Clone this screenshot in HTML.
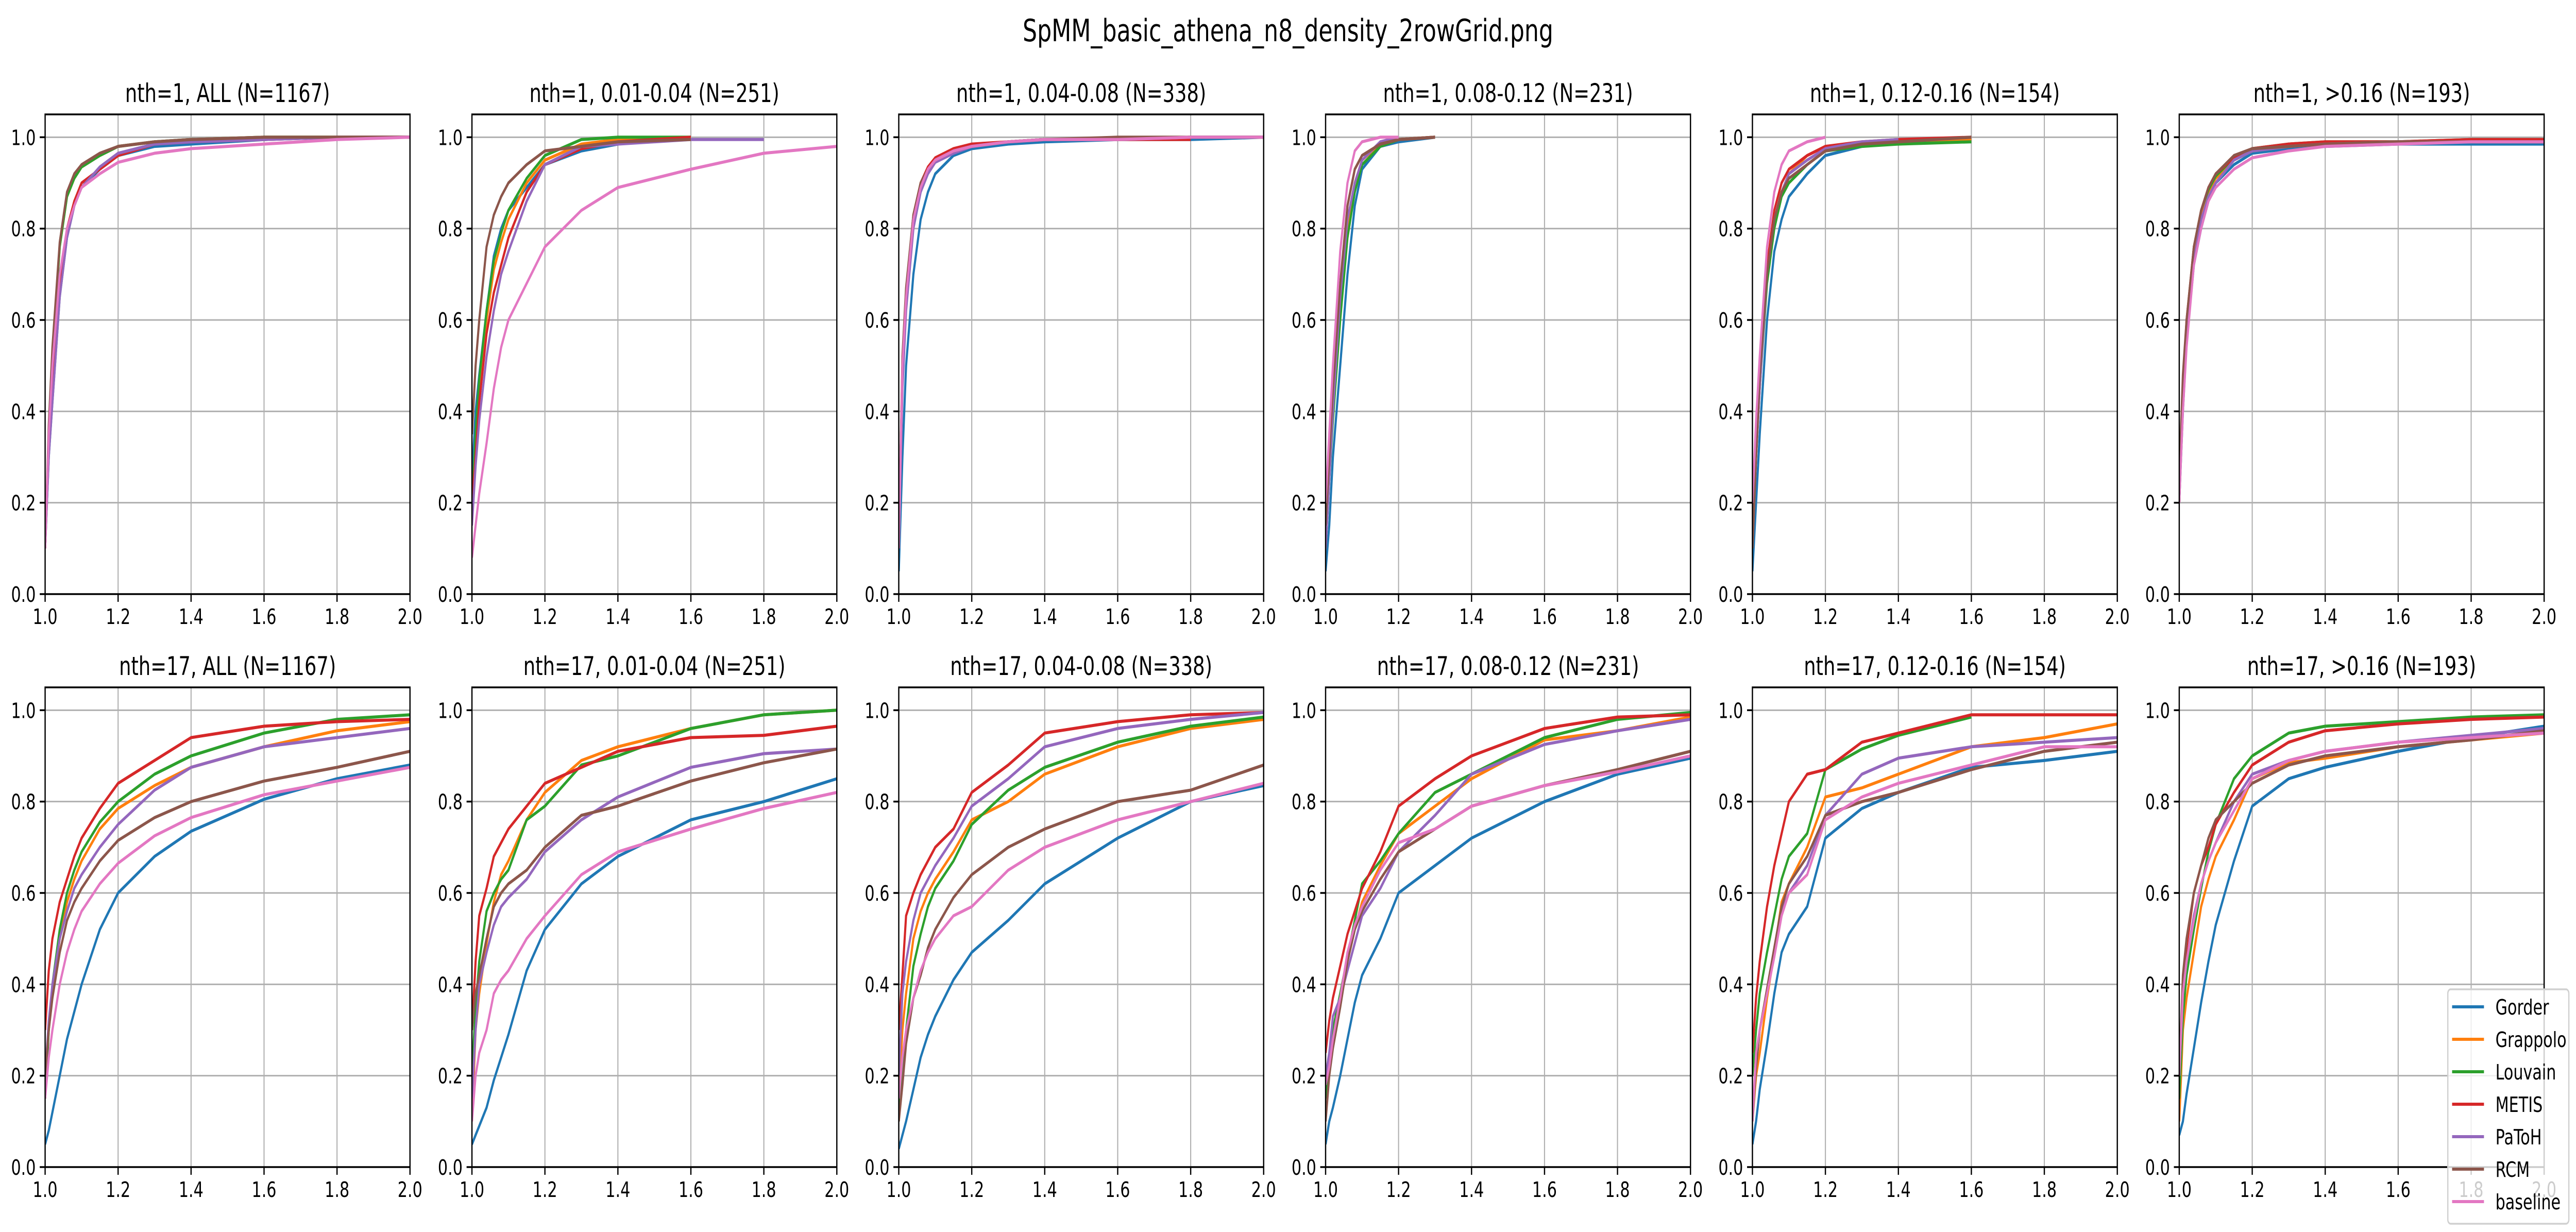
<!DOCTYPE html>
<html><head><meta charset="utf-8">
<style>
html,body{margin:0;padding:0;background:#fff;width:100%;height:100%;overflow:hidden;}
svg{display:block;width:100vw;height:100vh;font-family:"DejaVu Sans","Liberation Sans",sans-serif;}
</style></head>
<body>
<svg id="chart" xmlns="http://www.w3.org/2000/svg" viewBox="0 0 7194 2391" preserveAspectRatio="none">
<rect width="7194" height="2391" fill="#fff"/>
<text x="3597" y="80" font-size="60" text-anchor="middle" fill="#000">SpMM_basic_athena_n8_density_2rowGrid.png</text>
</svg>
<script>
const xGrid = [1.0,1.01,1.02,1.04,1.06,1.08,1.1,1.15,1.2,1.3,1.4,1.6,1.8,2.0];
const seriesNames = ["Gorder","Grappolo","Louvain","METIS","PaToH","RCM","baseline"];
const seriesColors = ["#1f77b4","#ff7f0e","#2ca02c","#d62728","#9467bd","#8c564b","#e377c2"];
const panelTitles = ["nth=1, ALL (N=1167)","nth=1, 0.01-0.04 (N=251)","nth=1, 0.04-0.08 (N=338)","nth=1, 0.08-0.12 (N=231)","nth=1, 0.12-0.16 (N=154)","nth=1, >0.16 (N=193)",
"nth=17, ALL (N=1167)","nth=17, 0.01-0.04 (N=251)","nth=17, 0.04-0.08 (N=338)","nth=17, 0.08-0.12 (N=231)","nth=17, 0.12-0.16 (N=154)","nth=17, >0.16 (N=193)"];
const xTickLabels = ["1.0","1.2","1.4","1.6","1.8","2.0"];
const yTickLabels = ["0.0","0.2","0.4","0.6","0.8","1.0"];
const _ = null;
const top1 = [
[0.1,0.3,0.42,0.65,0.78,0.85,0.89,0.93,0.96,0.98,0.985,0.995,1,1],
[0.1,0.35,0.52,0.76,0.87,0.91,0.935,0.96,0.98,0.99,0.995,1,1,1],
[0.1,0.35,0.52,0.76,0.87,0.91,0.935,0.96,0.98,0.99,0.995,1,1,1],
[0.1,0.32,0.45,0.68,0.8,0.86,0.9,0.93,0.96,0.985,0.99,0.995,1,1],
[0.1,0.3,0.42,0.65,0.78,0.85,0.89,0.935,0.965,0.985,0.99,0.995,1,1],
[0.1,0.37,0.54,0.77,0.88,0.92,0.94,0.965,0.98,0.99,0.995,1,1,1],
[0.1,0.35,0.5,0.7,0.8,0.85,0.89,0.92,0.945,0.965,0.975,0.985,0.995,1]];
const top2 = [
[0.25,0.4,0.48,0.62,0.74,0.8,0.84,0.89,0.94,0.97,0.985,_,_,_],
[0.18,0.33,0.45,0.6,0.71,0.77,0.82,0.9,0.95,0.985,0.995,1,_,_],
[0.2,0.35,0.47,0.62,0.73,0.79,0.84,0.91,0.96,0.995,1,1,_,_],
[0.2,0.3,0.42,0.57,0.66,0.72,0.78,0.88,0.94,0.975,0.99,1,_,_],
[0.15,0.28,0.38,0.52,0.62,0.7,0.75,0.86,0.94,0.98,0.985,0.995,0.995,_],
[0.35,0.5,0.6,0.76,0.83,0.87,0.9,0.94,0.97,0.98,0.99,0.995,_,_],
[0.08,0.15,0.22,0.33,0.45,0.54,0.6,0.68,0.76,0.84,0.89,0.93,0.965,0.98]];
const top3 = [
[0.05,0.3,0.5,0.7,0.82,0.88,0.92,0.96,0.975,0.985,0.99,0.995,0.995,1],
[0.1,0.5,0.65,0.82,0.9,0.93,0.95,0.97,0.98,0.99,0.995,0.995,1,1],
[0.1,0.48,0.64,0.81,0.89,0.93,0.95,0.97,0.98,0.99,0.995,0.995,1,1],
[0.1,0.5,0.66,0.83,0.9,0.935,0.955,0.975,0.985,0.99,0.995,0.995,0.995,_],
[0.1,0.45,0.62,0.8,0.88,0.92,0.945,0.965,0.98,0.99,0.995,0.995,1,1],
[0.1,0.52,0.67,0.83,0.9,0.93,0.95,0.97,0.98,0.99,0.995,1,1,1],
[0.1,0.5,0.65,0.82,0.89,0.93,0.95,0.97,0.98,0.99,0.995,0.995,1,1]];
const top4 = [
[0.05,0.15,0.3,0.5,0.7,0.85,0.93,0.98,0.99,1,_,_,_,_],
[0.1,0.25,0.4,0.62,0.8,0.9,0.95,0.985,0.995,1,_,_,_,_],
[0.1,0.25,0.38,0.6,0.78,0.88,0.94,0.98,0.995,1,_,_,_,_],
[0.15,0.3,0.42,0.65,0.85,0.93,0.96,0.985,0.995,1,_,_,_,_],
[0.1,0.25,0.4,0.65,0.82,0.9,0.95,0.99,1,_,_,_,_,_],
[0.15,0.3,0.45,0.68,0.85,0.93,0.96,0.985,0.995,1,_,_,_,_],
[0.2,0.35,0.5,0.75,0.9,0.97,0.99,1,1,_,_,_,_,_]];
const top5 = [
[0.05,0.2,0.35,0.6,0.75,0.82,0.87,0.92,0.96,0.98,0.99,0.995,_,_],
[0.1,0.3,0.45,0.7,0.82,0.88,0.92,0.96,0.98,0.985,0.99,0.995,_,_],
[0.1,0.3,0.45,0.68,0.8,0.87,0.9,0.94,0.97,0.98,0.985,0.99,_,_],
[0.15,0.35,0.5,0.72,0.84,0.9,0.93,0.96,0.98,0.99,0.995,1,_,_],
[0.1,0.3,0.45,0.7,0.82,0.88,0.92,0.95,0.975,0.99,0.995,_,_,_],
[0.1,0.3,0.48,0.7,0.82,0.88,0.91,0.94,0.97,0.985,0.99,1,_,_],
[0.2,0.38,0.52,0.76,0.88,0.94,0.97,0.99,1,_,_,_,_,_]];
const top6 = [
[0.2,0.4,0.55,0.72,0.8,0.86,0.9,0.94,0.965,0.975,0.98,0.985,0.985,0.985],
[0.2,0.45,0.58,0.75,0.83,0.88,0.91,0.95,0.97,0.98,0.985,0.99,0.99,0.99],
[0.2,0.46,0.59,0.76,0.84,0.885,0.915,0.955,0.975,0.985,0.99,0.99,0.995,0.995],
[0.2,0.45,0.6,0.76,0.84,0.89,0.92,0.955,0.975,0.985,0.99,0.99,0.995,0.995],
[0.2,0.42,0.56,0.73,0.82,0.87,0.9,0.95,0.97,0.98,0.985,0.99,0.99,0.99],
[0.25,0.48,0.6,0.76,0.84,0.89,0.92,0.96,0.975,0.98,0.985,0.99,0.99,0.99],
[0.2,0.4,0.54,0.72,0.8,0.86,0.89,0.93,0.955,0.97,0.98,0.985,0.99,0.99]];
const bot1 = [
[0.05,0.08,0.12,0.2,0.28,0.34,0.4,0.52,0.6,0.68,0.735,0.805,0.85,0.88],
[0.15,0.3,0.38,0.5,0.58,0.63,0.67,0.74,0.785,0.835,0.875,0.92,0.955,0.975],
[0.15,0.3,0.4,0.52,0.6,0.65,0.69,0.755,0.8,0.86,0.9,0.95,0.98,0.99],
[0.3,0.43,0.5,0.58,0.63,0.68,0.72,0.785,0.84,0.89,0.94,0.965,0.975,0.98],
[0.2,0.32,0.4,0.5,0.56,0.61,0.64,0.7,0.75,0.825,0.875,0.92,0.94,0.96],
[0.2,0.3,0.37,0.47,0.54,0.58,0.61,0.67,0.715,0.765,0.8,0.845,0.875,0.91],
[0.15,0.24,0.3,0.4,0.47,0.52,0.56,0.62,0.665,0.725,0.765,0.815,0.845,0.875]];
const bot2 = [
[0.05,0.07,0.09,0.13,0.19,0.24,0.29,0.43,0.52,0.62,0.68,0.76,0.8,0.85],
[0.1,0.3,0.38,0.49,0.58,0.64,0.67,0.76,0.82,0.89,0.92,0.96,0.99,1.0],
[0.2,0.35,0.45,0.56,0.6,0.63,0.65,0.76,0.79,0.88,0.9,0.96,0.99,1.0],
[0.3,0.45,0.55,0.61,0.68,0.71,0.74,0.79,0.84,0.875,0.91,0.94,0.945,0.965],
[0.15,0.3,0.4,0.47,0.53,0.57,0.59,0.63,0.69,0.76,0.81,0.875,0.905,0.915],
[0.3,0.38,0.42,0.5,0.57,0.6,0.62,0.65,0.7,0.77,0.79,0.845,0.885,0.915],
[0.1,0.2,0.25,0.3,0.38,0.41,0.43,0.5,0.55,0.64,0.69,0.74,0.785,0.82]];
const bot3 = [
[0.04,0.07,0.1,0.17,0.24,0.29,0.33,0.41,0.47,0.54,0.62,0.72,0.8,0.835],
[0.15,0.3,0.38,0.5,0.56,0.6,0.63,0.69,0.76,0.8,0.86,0.92,0.96,0.98],
[0.1,0.22,0.3,0.44,0.51,0.57,0.61,0.67,0.75,0.825,0.875,0.93,0.965,0.985],
[0.3,0.42,0.55,0.6,0.64,0.67,0.7,0.74,0.82,0.88,0.95,0.975,0.99,0.995],
[0.2,0.38,0.45,0.54,0.6,0.63,0.66,0.72,0.79,0.85,0.92,0.96,0.98,0.995],
[0.1,0.18,0.27,0.37,0.42,0.48,0.52,0.59,0.64,0.7,0.74,0.8,0.825,0.88],
[0.15,0.24,0.3,0.37,0.43,0.47,0.5,0.55,0.57,0.65,0.7,0.76,0.8,0.84]];
const bot4 = [
[0.05,0.1,0.13,0.2,0.28,0.36,0.42,0.5,0.6,0.66,0.72,0.8,0.86,0.895],
[0.15,0.2,0.27,0.37,0.45,0.52,0.58,0.66,0.73,0.79,0.85,0.935,0.955,0.985],
[0.15,0.22,0.3,0.38,0.46,0.54,0.62,0.67,0.73,0.82,0.86,0.94,0.98,0.995],
[0.25,0.32,0.37,0.44,0.51,0.56,0.61,0.69,0.79,0.85,0.9,0.96,0.985,0.99],
[0.2,0.25,0.33,0.37,0.43,0.49,0.55,0.61,0.69,0.77,0.86,0.925,0.955,0.98],
[0.1,0.2,0.26,0.35,0.45,0.52,0.56,0.63,0.69,0.74,0.79,0.835,0.87,0.91],
[0.18,0.22,0.28,0.37,0.47,0.53,0.57,0.65,0.71,0.74,0.79,0.835,0.865,0.9]];
const bot5 = [
[0.05,0.1,0.17,0.27,0.38,0.47,0.51,0.57,0.72,0.785,0.82,0.875,0.89,0.91],
[0.1,0.2,0.25,0.37,0.47,0.58,0.62,0.7,0.81,0.83,0.86,0.92,0.94,0.97],
[0.2,0.3,0.38,0.47,0.55,0.63,0.68,0.73,0.87,0.915,0.945,0.985,_,_],
[0.25,0.37,0.45,0.57,0.66,0.73,0.8,0.86,0.87,0.93,0.95,0.99,0.99,0.99],
[0.1,0.22,0.3,0.38,0.47,0.56,0.6,0.66,0.77,0.86,0.895,0.92,0.93,0.94],
[0.1,0.22,0.3,0.39,0.48,0.57,0.62,0.68,0.77,0.8,0.82,0.87,0.91,0.93],
[0.1,0.25,0.3,0.38,0.46,0.55,0.6,0.64,0.76,0.81,0.84,0.88,0.92,0.92]];
const bot6 = [
[0.07,0.1,0.16,0.26,0.36,0.45,0.53,0.67,0.79,0.85,0.875,0.91,0.94,0.965],
[0.1,0.3,0.37,0.47,0.57,0.63,0.68,0.76,0.85,0.885,0.895,0.92,0.935,0.95],
[0.15,0.33,0.42,0.52,0.61,0.69,0.75,0.85,0.9,0.95,0.965,0.975,0.985,0.99],
[0.2,0.4,0.48,0.6,0.66,0.7,0.75,0.82,0.88,0.93,0.955,0.97,0.98,0.985],
[0.2,0.38,0.45,0.55,0.62,0.67,0.71,0.8,0.86,0.89,0.91,0.93,0.945,0.96],
[0.2,0.42,0.5,0.6,0.66,0.72,0.76,0.8,0.84,0.88,0.9,0.92,0.935,0.955],
[0.2,0.38,0.45,0.54,0.62,0.67,0.71,0.78,0.85,0.89,0.91,0.93,0.94,0.95]];
const panelData = [top1,top2,top3,top4,top5,top6,bot1,bot2,bot3,bot4,bot5,bot6];

const NS = "http://www.w3.org/2000/svg";
const svg = document.getElementById("chart");
const AX_W = 1019, AX_H = 931, COL_STEP = 1192, LEFT0 = 126, TOPS = [222, 1334];
function mk(tag, attrs, parent){ const e=document.createElementNS(NS,tag); for(const k in attrs) e.setAttribute(k,attrs[k]); (parent||svg).appendChild(e); return e; }

panelData.forEach((data, p) => {
  const row = Math.floor(p/6), col = p%6;
  const L = LEFT0 + col*COL_STEP, T = TOPS[row], B = T + AX_H, R = L + AX_W;
  const sx = v => L + (v-1.0)/1.0*AX_W;
  const sy = v => B - v/1.05*AX_H;
  const g = mk("g", {});
  
  
  const title = mk("text", {x:(L+R)/2, y:T-24, "font-size":50, "text-anchor":"middle", fill:"#000"}, g);
  title.textContent = panelTitles[p];
  
  
  const clipId = "clip"+p;
  const cp = mk("clipPath", {id:clipId}, g);
  mk("rect", {x:L, y:T, width:AX_W, height:AX_H}, cp);
  xTickLabels.forEach(t => {
    const x = sx(parseFloat(t));
    const gl = mk("line", {x1:x, x2:x, y1:T, y2:B, stroke:"#b0b0b0", "stroke-width":3}, g);
    
    
    mk("line", {x1:x, x2:x, y1:B, y2:B+15, stroke:"#000", "stroke-width":3.5}, g);
    const tl = mk("text", {x:x, y:B+58, "font-size":41, "text-anchor":"middle", fill:"#000"}, g);
    tl.textContent = t;
    
    
  });
  yTickLabels.forEach(t => {
    const y = sy(parseFloat(t));
    const gl = mk("line", {x1:L, x2:R, y1:y, y2:y, stroke:"#b0b0b0", "stroke-width":3}, g);
    
    
    mk("line", {x1:L-15, x2:L, y1:y, y2:y, stroke:"#000", "stroke-width":3.5}, g);
    const tl = mk("text", {x:L-26, y:y+15, "font-size":41, "text-anchor":"end", fill:"#000"}, g);
    tl.textContent = t;
    
    
  });
  data.forEach((vals, s) => {
    const pts = [];
    vals.forEach((v, i) => { if (v !== null) pts.push(sx(xGrid[i]).toFixed(1)+","+sy(v).toFixed(1)); });
    const pl = mk("polyline", {points:pts.join(" "), fill:"none", stroke:seriesColors[s], "stroke-width":6, "stroke-linejoin":"round", "clip-path":"url(#"+clipId+")"}, g);
    
    
  });
  const fr = mk("rect", {x:L, y:T, width:AX_W, height:AX_H, fill:"none", stroke:"#000", "stroke-width":3.5}, g);
  
  
});

const lg = mk("g", {});


mk("rect", {x:6836, y:1920, width:338, height:455, rx:8, fill:"#fff", "fill-opacity":0.8, stroke:"#d0d0d0", "stroke-width":3.5}, lg);
seriesNames.forEach((n, i) => {
  const y = 1954 + i*63;
  const e = mk("g", {}, lg);
  
  
  mk("line", {x1:6848, x2:6937, y1:y, y2:y, stroke:seriesColors[i], "stroke-width":6}, e);
  const t = mk("text", {x:6969, y:y+15, "font-size":41, fill:"#000"}, e);
  t.textContent = n;
});

// mild fixed horizontal widening of text
svg.querySelectorAll("text").forEach(t => {
  const x = parseFloat(t.getAttribute("x"));
  t.setAttribute("transform", "translate(" + x + ",0) scale(1.06,1) translate(" + (-x) + ",0)");
});
</script>
</body></html>
